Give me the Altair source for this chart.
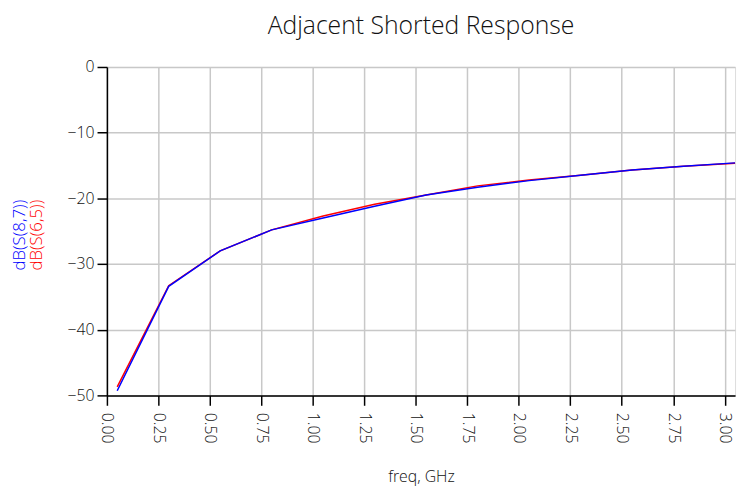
import altair as alt
import pandas as pd

freq = [0.05, 0.30, 0.55, 0.80, 1.05, 1.30, 1.55, 1.80, 2.05, 2.30, 2.55, 2.80, 3.05]
s65 = [-48.7, -33.3, -28.0, -24.8, -22.7, -20.9, -19.5, -18.1, -17.2, -16.5, -15.7, -15.1, -14.65]
s87 = [-49.3, -33.4, -28.0, -24.8, -23.0, -21.2, -19.5, -18.3, -17.3, -16.5, -15.7, -15.1, -14.6]

series_names = ["dB(S(8,7))", "dB(S(6,5))"]
series_colors = ["#0000ff", "#ff0000"]
x_ticks = [0.0, 0.25, 0.5, 0.75, 1.0, 1.25, 1.5, 1.75, 2.0, 2.25, 2.5, 2.75, 3.0]
y_ticks = [-50, -40, -30, -20, -10, 0]

FONT = "Open Sans"
W = 300

df65 = pd.DataFrame({"freq": freq, "db": s65})
df87 = pd.DataFrame({"freq": freq, "db": s87})

xscale = alt.Scale(domain=[0, 3.05], nice=False, zero=False)
yscale = alt.Scale(domain=[-50, 0], nice=False)

xaxis = alt.Axis(values=x_ticks, format=".2f", labelAngle=90, title="freq, GHz",
                 grid=True, gridColor="#c8c8c8", gridWidth=1.5,
                 domainColor="#000", domainWidth=1.5, tickColor="#000", tickWidth=1.5,
                 tickSize=10, labelPadding=7, labelFont=FONT, labelFontSize=16, labelFontWeight=W,
                 labelColor="#111", titleFont=FONT, titleFontSize=16, titleFontWeight=W,
                 titleColor="#111", titlePadding=26, labelFlush=False)
yaxis = alt.Axis(values=y_ticks, title=None,
                 grid=True, gridColor="#c8c8c8", gridWidth=1.5,
                 domainColor="#000", domainWidth=1.5, tickColor="#000", tickWidth=1.5,
                 tickSize=10, labelPadding=3, labelFont=FONT, labelFontSize=16, labelFontWeight=W,
                 labelColor="#111", labelFlush=False)

red = alt.Chart(df65).mark_line(color=series_colors[1], strokeWidth=1.5).encode(
    x=alt.X("freq:Q", scale=xscale, axis=xaxis),
    y=alt.Y("db:Q", scale=yscale, axis=yaxis),
)
blue = alt.Chart(df87).mark_line(color=series_colors[0], strokeWidth=1.5).encode(
    x=alt.X("freq:Q", scale=xscale),
    y=alt.Y("db:Q", scale=yscale),
)

lbl_blue = alt.Chart(pd.DataFrame({"t": [series_names[0]]})).mark_text(
    angle=270, font=FONT, fontSize=17, fontWeight=W, color=series_colors[0], align="center", baseline="middle"
).encode(x=alt.value(-88), y=alt.value(170), text="t:N")
lbl_red = alt.Chart(pd.DataFrame({"t": [series_names[1]]})).mark_text(
    angle=270, font=FONT, fontSize=17, fontWeight=W, color=series_colors[1], align="center", baseline="middle"
).encode(x=alt.value(-71), y=alt.value(170), text="t:N")

chart = alt.layer(red, blue, lbl_blue, lbl_red).properties(
    width=635, height=332,
    title=alt.TitleParams("Adjacent Shorted Response", font=FONT, fontSize=25,
                          fontWeight=W, color="#111", anchor="middle", offset=20),
    autosize=alt.AutoSizeParams(type="none"),
    padding={"left": 100, "top": 57, "right": 4, "bottom": 92},
).configure_view(stroke="#222", strokeWidth=1.5).configure(background="white")

chart.save("out.html", embed_options={"renderer": "svg", "actions": False})
